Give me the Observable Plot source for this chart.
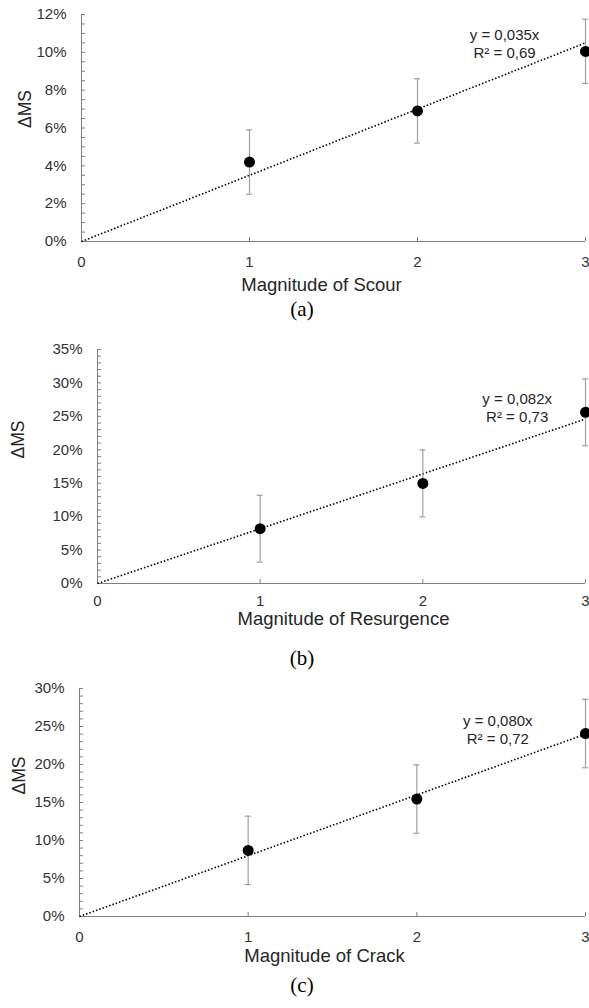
<!DOCTYPE html>
<html><head><meta charset="utf-8">
<script src="https://cdn.jsdelivr.net/npm/d3@7"></script>
<script src="https://cdn.jsdelivr.net/npm/@observablehq/plot@0.6"></script>
<style>
html,body{margin:0;padding:0;background:#fff;overflow:hidden;}
#root{position:relative;width:589px;height:1008px;background:#fff;}
#root svg{position:absolute;left:0;background:transparent !important;}
.cap{position:absolute;left:272px;width:60px;text-align:center;font-family:"Liberation Serif","Times New Roman",serif;font-size:21px;color:#000;line-height:21px;z-index:5;}
</style></head><body><div id="root"></div>
<script>
// ---- data ----
const magnitudes = [1, 2, 3];
const xTickValues = [0, 1, 2, 3];
const trendX = [0, 3];

const scourValues = [0.042, 0.069, 0.1005];
const scourErrors = [0.017, 0.017, 0.017];
const scourSlope = 0.035;
const scourEquation = "y = 0,035x\nR² = 0,69";

const resurgenceValues = [0.082, 0.1496, 0.256];
const resurgenceErrors = [0.05, 0.05, 0.05];
const resurgenceSlope = 0.082;
const resurgenceEquation = "y = 0,082x\nR² = 0,73";

const crackValues = [0.087, 0.1545, 0.2407];
const crackErrors = [0.045, 0.045, 0.045];
const crackSlope = 0.080;
const crackEquation = "y = 0,080x\nR² = 0,72";

const scourYTicks = [0, 0.02, 0.04, 0.06, 0.08, 0.10, 0.12];
const resurgenceYTicks = [0, 0.05, 0.10, 0.15, 0.20, 0.25, 0.30, 0.35];
const crackYTicks = [0, 0.05, 0.10, 0.15, 0.20, 0.25, 0.30];

const titles = ["Magnitude of Scour", "Magnitude of Resurgence", "Magnitude of Crack"];
const captions = ["(a)", "(b)", "(c)"];
const yLabel = "ΔMS";

// ---- styling ----
const axisColor = "#7f7f7f";
const errColor = "#a0a0a0";
const textColor = "#333333";
const fmt = d3.format(".0%");
const root = document.getElementById("root");

function minorTicks(max, step) {
  const n = Math.round(max / step);
  return d3.range(n + 1).map(i => i * step);
}

function panel(cfg) {
  const pts = magnitudes.map((x, i) => ({x, y: cfg.values[i], e: cfg.errors[i]}));
  const trend = trendX.map(x => ({x, y: cfg.slope * x}));
  const chart = Plot.plot({
    width: 589, height: cfg.height,
    marginTop: cfg.marginTop, marginBottom: cfg.marginBottom,
    marginLeft: cfg.marginLeft, marginRight: 4,
    x: {domain: [0, 3], axis: null},
    y: {domain: [0, cfg.yMax], axis: null},
    style: {fontFamily: "'Liberation Sans', Arial, sans-serif", background: "transparent", overflow: "hidden"},
    marks: [
      // inside ticks (y: right of axis line; x: above axis line)
      Plot.ruleY(minorTicks(cfg.yMax, cfg.minorStep), {y: d => d, x1: 0, x2: 0, insetLeft: 0, insetRight: -4, stroke: axisColor}),
      Plot.axisX({ticks: xTickValues, anchor: "bottom", tickSize: 4, dy: -4, tickFormat: () => "", stroke: axisColor, label: null}),
      // axis lines
      Plot.ruleX([0], {stroke: axisColor}),
      Plot.ruleY([0], {stroke: axisColor}),
      // tick labels
      Plot.text(cfg.yTicks, {x: 0, y: d => d, text: d => fmt(d), textAnchor: "end", dx: -15, fontSize: 15, fill: textColor}),
      Plot.text(xTickValues, {x: d => d, y: 0, text: d => String(d), dy: cfg.tickDy, fontSize: 15, fill: textColor}),
      // axis titles
      Plot.text([cfg.title], {frameAnchor: "bottom", text: d => d, dy: cfg.titleDy, dx: cfg.titleDx, fontSize: 18.5, fill: "#262626"}),
      Plot.text([yLabel], {frameAnchor: "left", text: d => d, rotate: -90, dx: cfg.yLabelDx, dy: cfg.yLabelDy, fontSize: 17.5, fill: "#262626"}),
      // trendline
      Plot.line(trend, {x: "x", y: "y", stroke: "#000", strokeWidth: 1.6, strokeDasharray: "1.5 2", strokeLinecap: "butt"}),
      // error bars
      Plot.ruleX(pts, {x: "x", y1: d => d.y - d.e, y2: d => d.y + d.e, stroke: errColor, strokeWidth: 1.2}),
      Plot.ruleY(pts, {y: d => d.y - d.e, x1: "x", x2: "x", insetLeft: -3, insetRight: -3, stroke: errColor, strokeWidth: 1.2}),
      Plot.ruleY(pts, {y: d => d.y + d.e, x1: "x", x2: "x", insetLeft: -3, insetRight: -3, stroke: errColor, strokeWidth: 1.2}),
      // points
      Plot.dot(pts, {x: "x", y: "y", r: 5.5, fill: "#000"}),
      // equation label
      Plot.text([cfg.equation], {x: cfg.eqX, y: cfg.eqY, text: d => d, lineHeight: 1.2, fontSize: 15, fill: "#262626"})
    ]
  });
  chart.style.top = cfg.top + "px";
  root.appendChild(chart);
  const cap = document.createElement("div");
  cap.className = "cap";
  cap.textContent = cfg.caption;
  cap.style.top = cfg.capTop + "px";
  root.appendChild(cap);
}

panel({top: 0, height: 305, marginTop: 14, marginBottom: 64, marginLeft: 81,
  yMax: 0.12, yTicks: scourYTicks, minorStep: 0.005,
  values: scourValues, errors: scourErrors, slope: scourSlope,
  equation: scourEquation, eqX: 2.518, eqY: 0.1049,
  title: titles[0], tickDy: 21, titleDy: 49, titleDx: -12, yLabelDx: -56, yLabelDy: 0,
  caption: captions[0], capTop: 299});

panel({top: 310, height: 340, marginTop: 39, marginBottom: 67, marginLeft: 97,
  yMax: 0.35, yTicks: resurgenceYTicks, minorStep: 0.01,
  values: resurgenceValues, errors: resurgenceErrors, slope: resurgenceSlope,
  equation: resurgenceEquation, eqX: 2.58, eqY: 0.264,
  title: titles[1], tickDy: 18, titleDy: 41, titleDx: 2, yLabelDx: -79, yLabelDy: -8,
  caption: captions[1], capTop: 648});

panel({top: 655, height: 320, marginTop: 33, marginBottom: 59, marginLeft: 79,
  yMax: 0.30, yTicks: crackYTicks, minorStep: 0.01,
  values: crackValues, errors: crackErrors, slope: crackSlope,
  equation: crackEquation, eqX: 2.48, eqY: 0.247,
  title: titles[2], tickDy: 21, titleDy: 45, titleDx: -8, yLabelDx: -60, yLabelDy: -8,
  caption: captions[2], capTop: 975});
</script>
</body></html>
